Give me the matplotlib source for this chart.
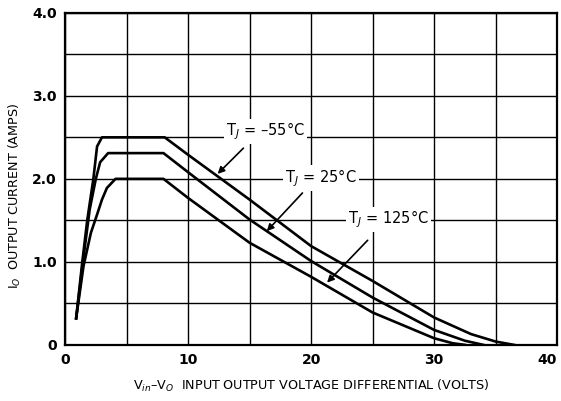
import matplotlib
matplotlib.use("Agg")
import matplotlib.pyplot as plt

plt.rcParams["font.family"] = ["DejaVu Sans"]
plt.rcParams["mathtext.fontset"] = "dejavusans"

# Данные для графика (ток в амперах, напряжение в вольтах)
v_m55 = [0.9, 1.4, 1.8, 2.3, 2.6, 3.0, 8.1, 10, 15, 20, 25, 30, 33, 35, 36.5]
i_m55 = [0.32, 1.00, 1.50, 2.00, 2.39, 2.50, 2.50, 2.29, 1.75, 1.19, 0.77, 0.33, 0.13, 0.04, 0.0]

v_25 = [0.9, 1.45, 2.0, 2.5, 2.85, 3.5, 8.0, 10, 15, 20, 25, 30, 32.5, 34]
i_25 = [0.32, 1.00, 1.63, 2.00, 2.20, 2.31, 2.31, 2.08, 1.51, 1.01, 0.57, 0.18, 0.05, 0.0]

v_125 = [0.9, 1.5, 2.1, 2.6, 3.0, 3.4, 4.1, 8.0, 10, 15, 20, 25, 30, 31.5, 32.5]
i_125 = [0.32, 0.95, 1.35, 1.57, 1.75, 1.89, 2.00, 2.00, 1.77, 1.23, 0.82, 0.39, 0.08, 0.02, 0.0]

x_ticks = [0, 10, 20, 30, 40]
x_labels = ["0", "10", "20", "30", "40"]
y_ticks = [0, 1.0, 2.0, 3.0, 4.0]
y_labels = ["0", "1.0", "2.0", "3.0", "4.0"]

fig = plt.figure(figsize=(5.61, 4.01), dpi=100)
ax = fig.add_axes([0.116, 0.14, 0.877, 0.828])

for v, i in [(v_m55, i_m55), (v_25, i_25), (v_125, i_125)]:
    ax.plot(v, i, color="black", lw=1.9, solid_joinstyle="round", zorder=3)

ax.set_xlim(0, 40)
ax.set_ylim(0, 4.0)
ax.set_xticks(x_ticks)
ax.set_xticklabels(x_labels, fontsize=10, fontweight="bold")
ax.get_xticklabels()[-1].set_horizontalalignment("right")
ax.set_yticks(y_ticks)
ax.set_yticklabels(y_labels, fontsize=10, fontweight="bold")
ax.set_xticks(range(0, 41, 5), minor=True)
ax.set_yticks([k * 0.5 for k in range(9)], minor=True)
ax.tick_params(which="both", length=0, pad=6)
ax.grid(which="both", color="black", lw=1.0)
for s in ax.spines.values():
    s.set_linewidth(1.6)

ax.set_xlabel("V$_{in}$–V$_O$  INPUT OUTPUT VOLTAGE DIFFERENTIAL (VOLTS)",
              fontsize=9.2, labelpad=8)
ax.set_ylabel("I$_O$  OUTPUT CURRENT (AMPS)", fontsize=9.2)
ax.yaxis.set_label_coords(-0.085, 0.45)

box = dict(facecolor="white", edgecolor="none", pad=1.5)
arrow = dict(arrowstyle="-|>", color="black", lw=1.2, mutation_scale=10,
             shrinkA=0, shrinkB=0)
ax.annotate("T$_J$ = –55°C", xy=(12.4, 2.06), xytext=(16.3, 2.57),
            fontsize=10.5, ha="center", va="center", bbox=box, zorder=4)
ax.annotate("", xy=(12.4, 2.06), xytext=(14.5, 2.37), arrowprops=arrow, zorder=4)
ax.annotate("T$_J$ = 25°C", xy=(16.4, 1.37), xytext=(20.8, 2.01),
            fontsize=10.5, ha="center", va="center", bbox=box, zorder=4)
ax.annotate("", xy=(16.4, 1.37), xytext=(19.3, 1.83), arrowprops=arrow, zorder=4)
ax.annotate("T$_J$ = 125°C", xy=(21.3, 0.75), xytext=(26.3, 1.51),
            fontsize=10.5, ha="center", va="center", bbox=box, zorder=4)
ax.annotate("", xy=(21.3, 0.75), xytext=(24.6, 1.26), arrowprops=arrow, zorder=4)

fig.savefig("out.png", dpi=100)
